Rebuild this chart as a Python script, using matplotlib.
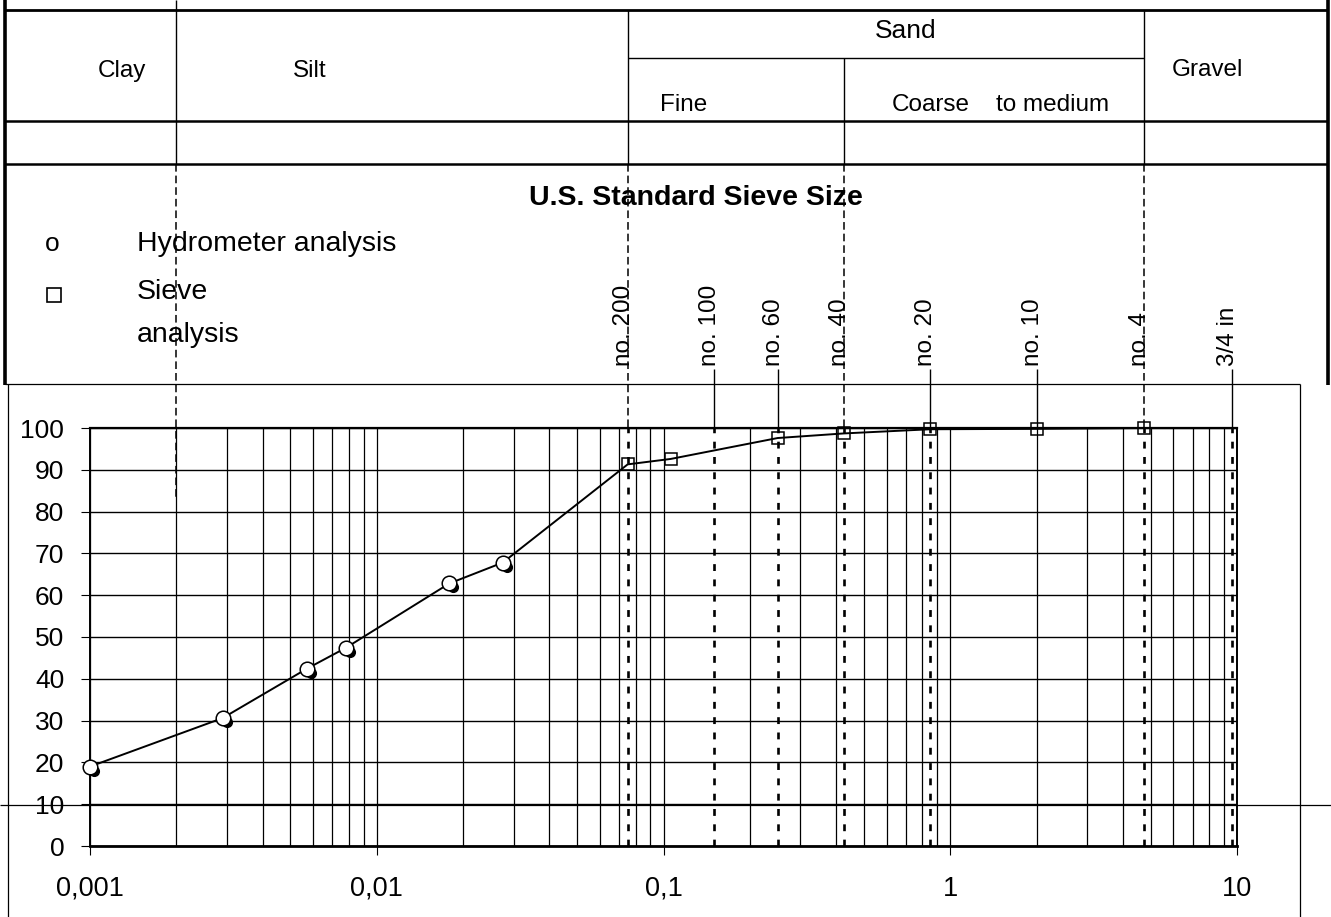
import matplotlib
matplotlib.use("Agg")
import matplotlib.pyplot as plt
from matplotlib.ticker import LogLocator, NullFormatter, FixedLocator
from matplotlib.transforms import blended_transform_factory, ScaledTranslation

plt.rcParams['font.family'] = ['Liberation Sans', 'DejaVu Sans']

# Hydrometer readings: grain diameter (mm) and percent finer by weight
hydro_d = [0.001, 0.0029, 0.0057, 0.0078, 0.0179, 0.0275]
hydro_pf = [19.0, 30.6, 42.4, 47.4, 62.8, 67.8]

# Sieve analysis: opening (mm) and percent passing
sieve_d = [0.075, 0.106, 0.25, 0.425, 0.85, 2.0, 4.75]
sieve_pf = [91.3, 92.6, 97.6, 98.7, 99.7, 99.8, 100.0]

# U.S. standard sieve designations and their positions on the size axis (mm)
sieve_names = ["no. 200", "no. 100", "no. 60", "no. 40", "no. 20", "no. 10", "no. 4", "3/4 in"]
sieve_open = [0.075, 0.15, 0.25, 0.425, 0.85, 2.0, 4.75, 9.6]

# Soil class boundaries (mm): clay/silt, silt/sand, fine/coarse sand, sand/gravel
class_bounds = [0.002, 0.075, 0.425, 4.75]

x_ticks = [0.001, 0.01, 0.1, 1, 10]
x_tick_labels = ["0,001", "0,01", "0,1", "1", "10"]
y_ticks = list(range(0, 101, 10))

W, H = 1331, 917
fig = plt.figure(figsize=(W / 100, H / 100), dpi=100)
fig.patch.set_facecolor("white")

# Pixel-space layer for the classification table and frames
over = fig.add_axes([0, 0, 1, 1])
over.set_xlim(0, W)
over.set_ylim(H, 0)
over.axis("off")
over.set_zorder(0)

# Grain size chart
x0, x1, ytop, ybot = 90, 1237, 428, 846
ax = fig.add_axes([x0 / W, 1 - ybot / H, (x1 - x0) / W, (ybot - ytop) / H])
ax.set_zorder(1)
ax.patch.set_visible(False)
ax.set_xscale("log")
ax.set_xlim(0.001, 10)
ax.set_ylim(0, 100)

ax.xaxis.set_major_locator(FixedLocator(x_ticks))
ax.set_xticklabels(x_tick_labels)
ax.xaxis.set_minor_locator(LogLocator(base=10, subs=range(2, 10)))
ax.xaxis.set_minor_formatter(NullFormatter())
ax.set_yticks(y_ticks)

ax.grid(True, which="both", axis="x", color="black", lw=0.9)
ax.grid(True, which="major", axis="y", color="black", lw=1.0)
ax.tick_params(axis="y", which="major", direction="out", length=6.5, width=0.8,
               pad=12, labelsize=19)
ax.tick_params(axis="x", which="major", direction="out", length=6.5, width=0.8,
               pad=15, labelsize=19.5)
ax.tick_params(axis="x", which="minor", length=0)
for side, lw in (("left", 1.4), ("right", 1.4), ("top", 1.6), ("bottom", 2.0)):
    ax.spines[side].set_linewidth(lw)
    ax.spines[side].set_color("black")

# Grading curve through all readings
all_d = hydro_d + sieve_d
all_pf = hydro_pf + sieve_pf
ax.plot(all_d, all_pf, color="black", lw=1.4, zorder=3, clip_on=False)

shadow = ax.transData + ScaledTranslation(4 / 100, -4 / 100, fig.dpi_scale_trans)
ax.plot(hydro_d, hydro_pf, "o", ms=7, color="black", transform=shadow,
        zorder=4, clip_on=False)
ax.plot(hydro_d, hydro_pf, "o", ms=10.5, mfc="white", mec="black", mew=1.1,
        zorder=5, clip_on=False)
ax.plot(sieve_d, sieve_pf, "s", ms=8.5, mfc="none", mec="black", mew=1.1,
        zorder=5, clip_on=False)

# Heavy dotted lines at the sieve openings inside the chart
for name, d in zip(sieve_names, sieve_open):
    if name != "no. 10":
        ax.axvline(d, color="black", lw=1.9, ls=(0, (2.6, 3.2)), zorder=2)

bt = blended_transform_factory(ax.transData, over.transData)
lk = dict(color="black", solid_capstyle="butt")

# Class boundary dashes running from the table down to the chart
for d in class_bounds:
    y_end = 498 if d == class_bounds[0] else ytop
    over.plot([d, d], [164, y_end], transform=bt, lw=1.1,
              ls=(0, (5, 2.6)), clip_on=False, **lk)

# Sieve labels and their leaders
label_bottom = 366
shift = ScaledTranslation(-4 / 100, 0, fig.dpi_scale_trans)
for name, d in zip(sieve_names, sieve_open):
    over.text(d, label_bottom, name, transform=bt + shift, rotation=90,
              ha="center", va="bottom", fontsize=17.5)
    if d not in class_bounds:
        over.plot([d, d], [369, ytop], transform=bt, lw=1.0, clip_on=False, **lk)

# Classification table
over.plot([5, 1328], [10, 10], lw=2.0, **lk)
over.plot([5, 1328], [121, 121], lw=1.8, **lk)
over.plot([5, 1328], [164, 164], lw=1.8, **lk)
over.plot([5, 5], [0, 385], lw=2.6, **lk)
over.plot([1328, 1328], [0, 385], lw=2.6, **lk)
over.plot([class_bounds[0]] * 2, [0, 164], transform=bt, lw=1.0, **lk)
over.plot([class_bounds[1]] * 2, [10, 164], transform=bt, lw=1.0, **lk)
over.plot([class_bounds[3]] * 2, [10, 164], transform=bt, lw=1.0, **lk)
over.plot([class_bounds[2]] * 2, [58, 164], transform=bt, lw=1.0, **lk)
over.plot([class_bounds[1], class_bounds[3]], [58, 58], transform=bt, lw=1.0, **lk)

over.text(122, 77, "Clay", ha="center", va="baseline", fontsize=17.5)
over.text(310, 77, "Silt", ha="center", va="baseline", fontsize=17.5)
over.text(906, 38, "Sand", ha="center", va="baseline", fontsize=19)
over.text(1207, 76, "Gravel", ha="center", va="baseline", fontsize=17.5)
over.text(660, 111, "Fine", ha="left", va="baseline", fontsize=17.5)
over.text(892, 111, "Coarse", ha="left", va="baseline", fontsize=17.5)
over.text(996, 111, "to medium", ha="left", va="baseline", fontsize=17.5)

# Sieve size heading and symbol key
over.text(696, 205, "U.S. Standard Sieve Size", ha="center", va="baseline",
          fontsize=20.5, fontweight="bold")
over.text(52, 251, "o", ha="center", va="baseline", fontsize=19)
over.plot([54], [295], "s", ms=10, mfc="white", mec="black", mew=1.2)
over.text(137, 251, "Hydrometer analysis", ha="left", va="baseline", fontsize=20.5)
over.text(137, 299, "Sieve", ha="left", va="baseline", fontsize=20.5)
over.text(137, 342, "analysis", ha="left", va="baseline", fontsize=20.5)

# Chart frame
over.plot([5, 1300], [384, 384], lw=0.9, **lk)
over.plot([8, 8], [384, 917], lw=0.9, **lk)
over.plot([1300, 1300], [384, 917], lw=0.9, **lk)
over.plot([0, W], [805, 805], lw=0.9, **lk)

fig.savefig("out.png", dpi=100)
